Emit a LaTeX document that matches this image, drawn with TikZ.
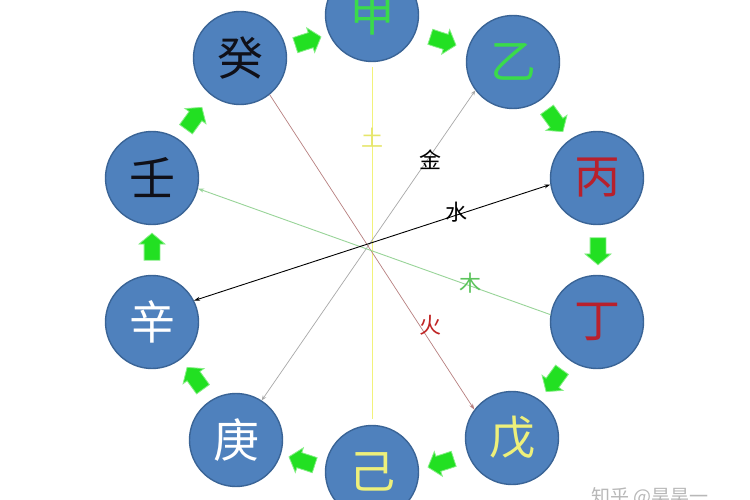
\documentclass[tikz,border=0pt]{standalone}
\usepackage{fontspec}
\setmainfont{Noto Sans CJK SC}
\usetikzlibrary{arrows.meta,shapes.arrows}
\definecolor{stemfill}{HTML}{4F81BD}
\definecolor{stemedge}{HTML}{3A6496}
\definecolor{cgreen}{HTML}{3ADB4A}
\definecolor{cred}{HTML}{B8202C}
\definecolor{cyellow}{HTML}{EEF07A}
\definecolor{cdark}{HTML}{101018}
\definecolor{blockgreen}{HTML}{22E022}
\definecolor{jinline}{HTML}{A8A8A8}
\definecolor{huoline}{HTML}{B88080}
\definecolor{muline}{HTML}{98D498}
\definecolor{tuline}{HTML}{F2F27A}
\definecolor{tulabel}{HTML}{E6E66A}
\definecolor{mulabel}{HTML}{5CC45C}
\definecolor{huolabel}{HTML}{C02424}
\begin{document}
\begin{tikzpicture}[x=1pt,y=-1pt,
  stem/.style={circle,fill=stemfill,draw=stemedge,line width=1.4pt,minimum size=93pt,inner sep=0pt,font=\fontsize{46}{46}\selectfont},
  blockarrow/.style={single arrow,fill=blockgreen,draw=blockgreen!55!white,line width=0.8pt,inner xsep=0pt,inner ysep=7.5pt,minimum height=27pt,single arrow head extend=5pt,single arrow tip angle=100},
  elabel/.style={font=\fontsize{22}{22}\selectfont,inner sep=1pt},
  tip/.style={-{Stealth[length=6pt,width=4pt]}}
]
\useasboundingbox (0,0) rectangle (750,500);
\fill[white] (0,0) rectangle (750,500);
% stems
\node[stem,text=cgreen] (jia) at (372,15) {甲};
\node[stem,text=cgreen] (yi) at (513,62) {乙};
\node[stem,text=cred] (bing) at (597,178) {丙};
\node[stem,text=cred] (ding) at (597,322) {丁};
\node[stem,text=cyellow] (wu) at (512,438) {戊};
\node[stem,text=cyellow] (ji) at (372,472) {己};
\node[stem,text=white] (geng) at (236,440) {庚};
\node[stem,text=white] (xin) at (152,322) {辛};
\node[stem,text=cdark] (ren) at (152,178) {壬};
\node[stem,text=cdark] (gui) at (240,58) {癸};
% element lines
\draw[tuline,line width=1pt,shorten <=5pt,shorten >=6pt] (jia.270) -- (ji.90);
\draw[jinline,line width=0.7pt,{Stealth[length=5pt,width=4pt]}-{Stealth[length=5pt,width=4pt]}] (geng.57) -- (yi.217);
\draw[huoline,line width=0.7pt,tip] (gui.309) -- (wu.143);
\draw[muline,line width=0.9pt,tip] (ding.171) -- (ren.-13);
\draw[black,line width=0.9pt,{Stealth[length=6pt,width=4pt]}-{Stealth[length=6pt,width=4pt]}] (xin.27) -- (bing.188);
% element labels
\node[elabel,text=tulabel] (tu) at (372,138) {土};
\node[elabel,text=black] (jin) at (430,160) {金};
\node[elabel,text=black] (shui) at (456,212) {水};
\node[elabel,text=mulabel] (mu) at (470,283) {木};
\node[elabel,text=huolabel] (huo) at (430,325) {火};
% green block arrows
\node[blockarrow,rotate=18] (a1) at (305,42) {};
\node[blockarrow,rotate=-18] (a2) at (440,40) {};
\node[blockarrow,rotate=-54] (a3) at (553,118) {};
\node[blockarrow,rotate=-90] (a4) at (598,248) {};
\node[blockarrow,rotate=-126] (a5) at (556,378) {};
\node[blockarrow,rotate=-162] (a6) at (444,462) {};
\node[blockarrow,rotate=162] (a7) at (305,462) {};
\node[blockarrow,rotate=126] (a8) at (197,381) {};
\node[blockarrow,rotate=90] (a9) at (152,250) {};
\node[blockarrow,rotate=54] (a10) at (192,121) {};
% watermark
\node[text=black!28,font=\fontsize{19}{19}\selectfont,anchor=west] (wm) at (588,497) {知乎 @昊昊一};
\end{tikzpicture}
\end{document}
